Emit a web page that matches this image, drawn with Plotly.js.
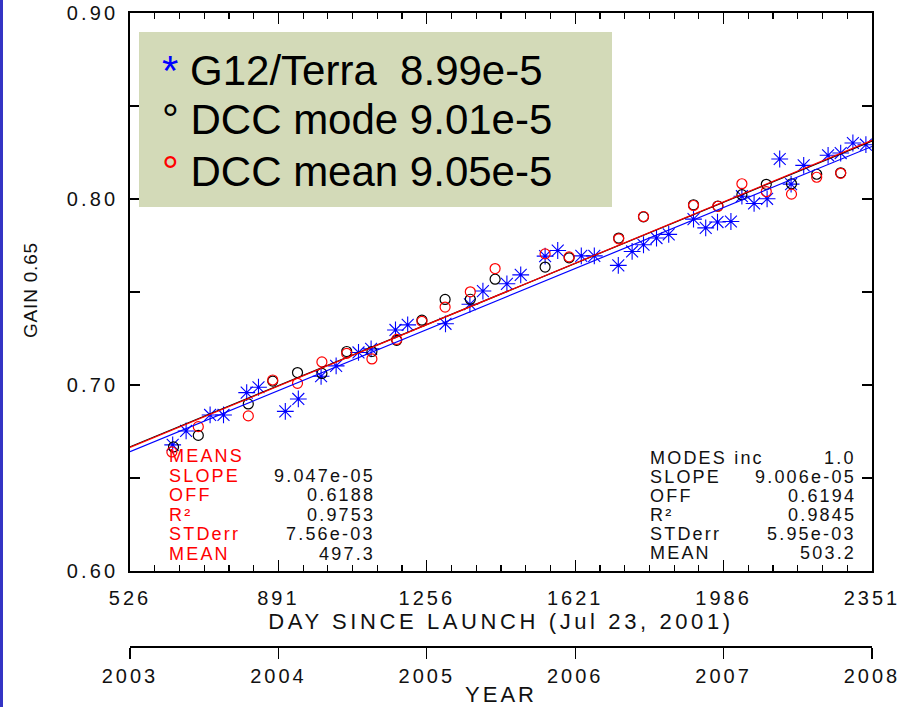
<!DOCTYPE html>
<html>
<head>
<meta charset="utf-8">
<script src="https://cdn.plot.ly/plotly-3.0.1.min.js"></script>
<style>
  html, body { margin: 0; padding: 0; background: #ffffff; }
  #chart { width: 912px; height: 707px; }
</style>
</head>
<body>
<div id="chart"></div>
<script>
// ---- G12 / Terra ratio (blue asterisks) ----
const g12Days = [631, 664, 723, 756, 813, 842, 908, 940, 996, 1033, 1088, 1119, 1179, 1209,
  1302, 1362, 1394, 1453, 1487, 1547, 1578, 1636, 1668, 1727, 1761, 1789, 1821, 1851, 1912,
  1942, 1971, 2004, 2031, 2061, 2093, 2124, 2152, 2183, 2243, 2274, 2304, 2336];
const g12Gain = [0.6678, 0.6753, 0.6839, 0.6839, 0.6959, 0.6988, 0.6858, 0.6925, 0.7047, 0.7103,
  0.7175, 0.7194, 0.7296, 0.7323, 0.7329, 0.7434, 0.7505, 0.7544, 0.7592, 0.7693, 0.7723,
  0.7694, 0.7694, 0.7643, 0.7718, 0.7754, 0.7790, 0.7810, 0.7892, 0.7845, 0.7876, 0.7879,
  0.8015, 0.7976, 0.8001, 0.8215, 0.8080, 0.8181, 0.8235, 0.8247, 0.8301, 0.8292];

// ---- DCC mode (black circles) ----
const modeDays = [633, 694, 817, 877, 938, 998, 1059, 1121, 1182, 1244, 1301, 1363, 1424,
  1547, 1606, 1728, 1789, 1912, 1972, 2031, 2091, 2153, 2215, 2274];
const modeGain = [0.6667, 0.6729, 0.6898, 0.7021, 0.7067, 0.7062, 0.7180, 0.7180, 0.7240,
  0.7349, 0.7460, 0.7461, 0.7569, 0.7634, 0.7684, 0.7790, 0.7904, 0.7969, 0.7962, 0.8023,
  0.8079, 0.8082, 0.8133, 0.8141];

// ---- DCC mean (red circles) ----
const meanDays = [629, 694, 817, 877, 938, 998, 1059, 1121, 1182, 1244, 1301, 1363, 1424,
  1547, 1606, 1728, 1789, 1912, 1972, 2031, 2091, 2153, 2215, 2274];
const meanGain = [0.6640, 0.6776, 0.6834, 0.7027, 0.7009, 0.7124, 0.7170, 0.7140, 0.7245,
  0.7342, 0.7419, 0.7501, 0.7626, 0.7705, 0.7689, 0.7786, 0.7906, 0.7965, 0.7961, 0.8082,
  0.8040, 0.8026, 0.8117, 0.8138];

// ---- linear fits: gain = offset + slope * day ----
const fitNames   = ['DCC mode fit', 'DCC mean fit', 'G12/Terra fit'];
const fitSlopes  = [9.006e-5, 9.047e-5, 8.99e-5];
const fitOffsets = [0.6194, 0.6188, 0.6169];
const fitColors  = ['#000000', '#ff0000', '#0000ff'];

// ---- axes ----
const dayRange   = [526, 2351];
const dayTicks   = [526, 891, 1256, 1621, 1986, 2351];
const yearRange  = [2003, 2008];
const yearTicks  = [2003, 2004, 2005, 2006, 2007, 2008];
const gainTicks  = [0.60, 0.65, 0.70, 0.75, 0.80, 0.85, 0.90];
const gainLabels = ['0.60', '', '0.70', '', '0.80', '', '0.90'];

// ---- key and statistics text ----
const keyLabels  = ['G12/Terra  8.99e-5', 'DCC mode 9.01e-5', 'DCC mean 9.05e-5'];
const keyMarks   = ['*', '°', '°'];
const keyColors  = ['#0000ff', '#000000', '#ff0000'];
const meansNames = ['MEANS', 'SLOPE', 'OFF', 'R²', 'STDerr', 'MEAN'];
const meansVals  = ['', '9.047e-05', '0.6188', '0.9753', '7.56e-03', '497.3'];
const modesNames = ['MODES inc', 'SLOPE', 'OFF', 'R²', 'STDerr', 'MEAN'];
const modesVals  = ['1.0', '9.006e-05', '0.6194', '0.9845', '5.95e-03', '503.2'];

// --------------------------------------------------------------
const FONT = 'Liberation Sans, Arial, sans-serif';
const W = 912, H = 707;
const L = 130, R = 40, T = 13, B = 61;
const plotBottomPx = 571;                 // bottom of the gain/day frame
const plotW = W - L - R, paperH = H - T - B;
const yDomLow = (H - B - plotBottomPx) / paperH;
const frameH = plotBottomPx - T;

const spaced = (s, ls) => `<span style="letter-spacing:${ls}px">${s}</span>`;
const dx = px => (px - L) / plotW;             // pixel -> x domain fraction
const dy = py => (plotBottomPx - py) / frameH; // pixel -> y domain fraction

const traces = [];
traces.push({
  x: g12Days, y: g12Gain, type: 'scatter', mode: 'markers', name: 'G12/Terra',
  marker: { symbol: 'asterisk-open', size: 14, color: '#0000ff', line: { color: '#0000ff', width: 1.1 } }
});
traces.push({
  x: modeDays, y: modeGain, type: 'scatter', mode: 'markers', name: 'DCC mode',
  marker: { symbol: 'circle-open', size: 10, color: '#000000', line: { color: '#000000', width: 1.2 } }
});
traces.push({
  x: meanDays, y: meanGain, type: 'scatter', mode: 'markers', name: 'DCC mean',
  marker: { symbol: 'circle-open', size: 10, color: '#ff0000', line: { color: '#ff0000', width: 1.2 } }
});
fitNames.forEach((n, i) => {
  traces.push({
    x: dayRange.slice(), y: dayRange.map(d => fitOffsets[i] + fitSlopes[i] * d),
    type: 'scatter', mode: 'lines', name: n,
    line: { color: fitColors[i], width: 1.2 }
  });
});
// invisible trace so the year axis is drawn
traces.push({ x: yearRange, y: [0.6, 0.6], xaxis: 'x2', yaxis: 'y', mode: 'markers',
  marker: { opacity: 0 }, hoverinfo: 'skip', showlegend: false, type: 'scatter' });

const annotations = [];
keyLabels.forEach((t, i) => {
  annotations.push({
    xref: 'x domain', yref: 'y domain', x: dx(160), y: dy([70, 120, 171][i]),
    xanchor: 'left', yanchor: 'middle', showarrow: false,
    text: `<span style="color:${keyColors[i]}">${keyMarks[i]}</span> ${t}`,
    font: { family: FONT, size: 42, color: '#000000' }
  });
});
const leftRows = [456, 475.5, 495, 514.5, 534, 553.5];
const rightRows = [458, 477, 496, 515, 534, 553];
const statFont = 18, statSp = 2.2;
meansNames.forEach((t, i) => {
  annotations.push({ xref: 'x domain', yref: 'y domain', x: dx(167), y: dy(leftRows[i]),
    xanchor: 'left', yanchor: 'middle', showarrow: false, text: spaced(t, statSp),
    font: { family: FONT, size: statFont, color: '#ff0000' } });
  if (meansVals[i]) annotations.push({ xref: 'x domain', yref: 'y domain', x: dx(377), y: dy(leftRows[i]),
    xanchor: 'right', yanchor: 'middle', showarrow: false, text: spaced(meansVals[i], statSp),
    font: { family: FONT, size: statFont, color: '#111111' } });
});
modesNames.forEach((t, i) => {
  annotations.push({ xref: 'x domain', yref: 'y domain', x: dx(648), y: dy(rightRows[i]),
    xanchor: 'left', yanchor: 'middle', showarrow: false, text: spaced(t, statSp),
    font: { family: FONT, size: statFont, color: '#111111' } });
  annotations.push({ xref: 'x domain', yref: 'y domain', x: dx(858), y: dy(rightRows[i]),
    xanchor: 'right', yanchor: 'middle', showarrow: false, text: spaced(modesVals[i], statSp),
    font: { family: FONT, size: statFont, color: '#111111' } });
});
// gain axis title
annotations.push({
  xref: 'paper', yref: 'paper', x: (30 - L) / plotW, y: (H - B - 290) / paperH,
  xanchor: 'center', yanchor: 'middle', textangle: -90, showarrow: false,
  text: spaced('GAIN 0.65', 0.8), font: { family: FONT, size: 19, color: '#111111' }
});

const tickFont = { family: FONT, size: 20, color: '#111111' };
const titleFont = { family: FONT, size: 22, color: '#111111' };
const layout = {
  width: W, height: H,
  margin: { l: L, r: R, t: T, b: B, pad: 0 },
  paper_bgcolor: '#ffffff', plot_bgcolor: '#ffffff',
  showlegend: false,
  xaxis: {
    range: dayRange, tickmode: 'array', tickvals: dayTicks,
    ticktext: dayTicks.map(v => spaced(String(v), 3)),
    ticks: 'inside', ticklen: 11, tickwidth: 1.2, tickcolor: '#000',
    minor: { tickmode: 'linear', tick0: 526, dtick: 365 / 6, ticks: 'inside', ticklen: 6,
             tickwidth: 1.2, tickcolor: '#000', showgrid: false },
    showline: true, linecolor: '#000', linewidth: 1.6, mirror: 'ticks',
    showgrid: false, zeroline: false, tickfont: tickFont, ticklabelstandoff: 8,
    title: { text: spaced('DAY SINCE LAUNCH (Jul 23, 2001)', 3.6), standoff: 5, font: titleFont }
  },
  xaxis2: {
    overlaying: 'x', anchor: 'free', position: 0, side: 'bottom',
    range: yearRange, tickmode: 'array', tickvals: yearTicks,
    ticktext: yearTicks.map(v => spaced(String(v), 3)),
    ticks: 'outside', ticklen: 11, tickwidth: 1.2, tickcolor: '#000',
    showline: true, linecolor: '#000', linewidth: 1.6,
    showgrid: false, zeroline: false, tickfont: tickFont,
    title: { text: spaced('YEAR', 3), standoff: 3, font: titleFont }
  },
  yaxis: {
    domain: [yDomLow, 1], range: [0.60, 0.90],
    tickmode: 'array', tickvals: gainTicks, ticktext: gainLabels.map(s => spaced(s, 3.2)),
    ticks: 'inside', ticklen: 10, tickwidth: 1.2, tickcolor: '#000',
    showline: true, linecolor: '#000', linewidth: 1.6, mirror: 'ticks',
    showgrid: false, zeroline: false, tickfont: tickFont, ticklabelstandoff: 6
  },
  shapes: [
    // key background
    { type: 'rect', xref: 'x domain', yref: 'y domain', x0: dx(139), x1: dx(612), y0: dy(207), y1: dy(32),
      fillcolor: '#d3dab8', line: { width: 0 }, layer: 'above' },
    // slide edge bar on the far left
    { type: 'rect', xref: 'paper', yref: 'paper', x0: -L / plotW, x1: (3 - L) / plotW,
      y0: -B / paperH, y1: 1 + T / paperH, fillcolor: '#3434c4', line: { width: 0 } }
  ],
  annotations: annotations
};

Plotly.newPlot('chart', traces, layout, { staticPlot: true, displayModeBar: false });
</script>
</body>
</html>
